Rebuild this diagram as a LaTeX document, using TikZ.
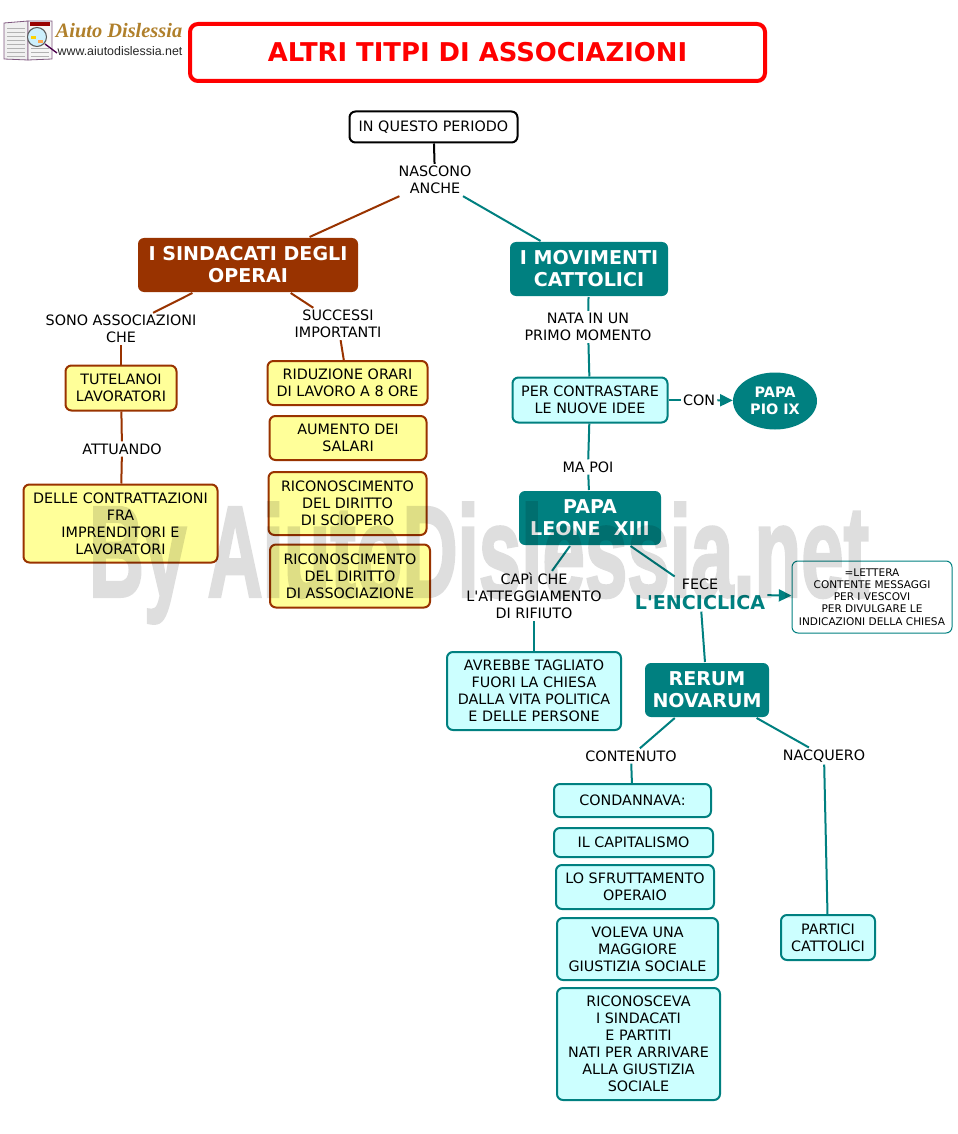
\documentclass[tikz,border=0pt]{standalone}
\usepackage{fontspec}
\setmainfont{DejaVu Sans}
\newfontfamily\plainf{DejaVu Sans}
\newfontfamily\wmfont[FakeBold=2.5]{Liberation Sans}
\newfontfamily\logofont{Liberation Serif}
\newfontfamily\urlfont{Liberation Sans}
\usetikzlibrary{arrows.meta,calc,shapes.geometric}
\definecolor{brn}{HTML}{993300}
\definecolor{teal1}{HTML}{008080}
\definecolor{yel}{HTML}{FFFF99}
\definecolor{cya}{HTML}{CCFFFF}
\definecolor{gold1}{HTML}{B0802B}
\tikzset{
  sz/.style 2 args={minimum width=#1*0.75pt,minimum height=#2*0.75pt},
  base/.style={inner sep=0pt,align=center,rounded corners=4.5pt,line width=1.5pt,
    font=\fontsize{10.75}{12.75}\selectfont,text=black},
  ybox/.style={base,draw=brn,fill=yel},
  cbox/.style={base,draw=teal1,fill=cya},
  bigbrn/.style={base,fill=brn,text=white,font=\bfseries\fontsize{14.3}{16.5}\selectfont},
  bigteal/.style={base,fill=teal1,text=white,font=\bfseries\fontsize{14.3}{16.5}\selectfont},
  lab/.style={inner sep=1.5pt,align=center,font=\fontsize{10.75}{12.75}\selectfont,text=black},
  cb/.style={brn,line width=1.5pt},
  ct/.style={teal1,line width=1.5pt},
  ck/.style={black,line width=1.5pt},
}
\begin{document}
\begin{tikzpicture}[x=0.75pt,y=-0.75pt]
\useasboundingbox (0,0) rectangle (957,1134);
\fill[white] (0,0) rectangle (957,1134);

% logo
\begin{scope}
 \draw[gray!70!violet,line width=.6pt,fill=gray!12] (4,23) -- (28,21) -- (28,60) -- (4,59) -- cycle;
 \draw[gray!70!violet,line width=.6pt,fill=gray!8] (28,21) -- (52,21) -- (52,59) -- (28,60) -- cycle;
 \foreach \yy in {28,32,...,56} {\draw[gray!60,line width=.4pt] (7,\yy) -- (25,\yy);}
 \foreach \yy in {48,52,56} {\draw[gray!60,line width=.4pt] (31,\yy) -- (49,\yy);}
 \fill[red!60!black] (30,22) rectangle (50,26);
 \draw[violet!60!black,line width=1pt] (45,44) -- (57,53);
 \draw[gray!70!black,line width=.8pt,fill=cyan!20] (37,37) circle (9.5);
 \fill[yellow!70!orange] (31,36) rectangle (36,39);
 \fill[orange!70] (38,40) rectangle (43,43);
 \node[inner sep=0pt,text=gold1,font=\logofont\bfseries\itshape\fontsize{15.3}{16}\selectfont] (logotitle) at (119,31) {Aiuto Dislessia};
 \node[inner sep=0pt,text=black!85,font=\urlfont\fontsize{9.3}{10}\selectfont] (logourl) at (120,51) {www.aiutodislessia.net};
\end{scope}

% title
\node[base,draw=red,line width=3pt,rounded corners=6pt,sz={575}{57},text=red,font=\bfseries\fontsize{19.4}{22}\selectfont] (title) at (477.5,52.5) {ALTRI TITPI DI ASSOCIAZIONI};

% top
\node[base,draw=black,sz={168}{31},fill=white] (top) at (433.5,127) {IN QUESTO PERIODO};
\node[lab] (nasc) at (435,180) {NASCONO\\ANCHE};
\node[bigbrn,sz={220}{54}] (sind) at (248,265) {I SINDACATI DEGLI\\OPERAI};
\node[bigteal,sz={158}{54}] (mov) at (589,269) {I MOVIMENTI\\CATTOLICI};

% left branch
\node[lab] (sono) at (121,329) {SONO ASSOCIAZIONI\\CHE};
\node[lab] (succ) at (338,324) {SUCCESSI\\IMPORTANTI};
\node[ybox,sz={111}{45}] (tut) at (121,388) {TUTELANOI\\LAVORATORI};
\node[lab] (att) at (122,449) {ATTUANDO};
\node[ybox,sz={194}{78}] (dell) at (120.5,523.5) {DELLE CONTRATTAZIONI\\FRA\\IMPRENDITORI E\\LAVORATORI};
\node[ybox,sz={160}{44}] (rid) at (347.5,383) {RIDUZIONE ORARI\\DI LAVORO A 8 ORE};
\node[ybox,sz={157}{44}] (aum) at (348,438) {AUMENTO DEI\\SALARI};
\node[ybox,sz={158}{63}] (sci) at (347.5,503.5) {RICONOSCIMENTO\\DEL DIRITTO\\DI SCIOPERO};
\node[ybox,sz={160}{63}] (ass) at (350,576) {RICONOSCIMENTO\\DEL DIRITTO\\DI ASSOCIAZIONE};

% right branch
\node[lab] (nata) at (588,327) {NATA IN UN\\PRIMO MOMENTO};
\node[cbox,sz={155}{45}] (cont) at (590,400) {PER CONTRASTARE\\LE NUOVE IDEE};
\node[lab] (con) at (699,400) {CON};
\node[ellipse,fill=teal1,minimum width=84*0.75pt,minimum height=57*0.75pt,inner sep=0pt,align=center,text=white,font=\bfseries\fontsize{10.8}{12.75}\selectfont] (pio) at (775,401) {PAPA\\PIO IX};
\node[lab] (mapoi) at (588,467) {MA POI};
\node[bigteal,sz={142}{54}] (leone) at (590,518) {PAPA\\LEONE~~XIII};
\node[lab,font=\plainf\fontsize{10.75}{12.75}\selectfont] (capi) at (534,596) {CAPì CHE\\L'ATTEGGIAMENTO\\DI RIFIUTO};
\node[lab,font=\plainf\fontsize{10.75}{12.75}\selectfont] (fece) at (700,594) {FECE\\[2pt]{\bfseries\color{teal1}\fontsize{14.3}{16.5}\selectfont L'ENCICLICA}};
\node[base,draw=teal1,line width=.75pt,fill=white,sz={160}{72},font=\fontsize{7.9}{9.1}\selectfont] (lett) at (872,597) {=LETTERA\\CONTENTE MESSAGGI\\PER I VESCOVI\\PER DIVULGARE LE\\INDICAZIONI DELLA CHIESA};
\node[cbox,sz={174}{78}] (avr) at (534,691) {AVREBBE TAGLIATO\\FUORI LA CHIESA\\DALLA VITA POLITICA\\E DELLE PERSONE};
\node[bigteal,sz={124}{54}] (rer) at (707,690) {RERUM\\NOVARUM};
\node[lab] (conten) at (631,756) {CONTENUTO};
\node[lab] (nacq) at (824,756) {NACQUERO};
\node[cbox,sz={157}{33}] (cond) at (632.5,800.5) {CONDANNAVA:};
\node[cbox,sz={159}{29}] (capit) at (633.5,842.5) {IL CAPITALISMO};
\node[cbox,sz={158}{44}] (sfr) at (635,887) {LO SFRUTTAMENTO\\OPERAIO};
\node[cbox,sz={161}{62}] (vol) at (637.5,949) {VOLEVA UNA\\MAGGIORE\\GIUSTIZIA SOCIALE};
\node[cbox,sz={163}{112}] (ric) at (638.5,1044) {RICONOSCEVA\\I SINDACATI\\E PARTITI\\NATI PER ARRIVARE\\ALLA GIUSTIZIA\\SOCIALE};
\node[cbox,sz={94}{45}] (part) at (828,937.5) {PARTICI\\CATTOLICI};

% connectors
\draw[ck] (top) -- (nasc);
\draw[cb] (nasc) -- (sind);
\draw[ct] (nasc) -- (mov);
\draw[cb] (sind) -- (sono);
\draw[cb] (sind) -- (succ);
\draw[cb] (sono) -- (tut);
\draw[cb] (tut) -- (att);
\draw[cb] (att) -- (dell);
\draw[cb] (succ) -- (rid);
\draw[ct] (mov) -- (nata);
\draw[ct] (nata) -- (cont);
\draw[ct] (cont) -- (con);
\draw[ct,-{Triangle[length=9.5pt,width=9pt]}] (con) -- (pio);
\draw[ct] (cont) -- (mapoi);
\draw[ct] (mapoi) -- (leone);
\draw[ct] (leone) -- (capi);
\draw[ct] (leone) -- (fece);
\draw[ct] (capi) -- (avr);
\draw[ct,-{Triangle[length=9.5pt,width=9pt]}] (fece) -- (lett);
\draw[ct] (fece) -- (rer);
\draw[ct] (rer) -- (conten);
\draw[ct] (rer) -- (nacq);
\draw[ct] (conten) -- (cond);
\draw[ct] (nacq) -- (part);

% watermark
\begin{scope}[transparency group,opacity=.13]
\node[inner sep=0pt,text=black,xscale=.59,transform shape,font=\wmfont\bfseries\fontsize{97}{100}\selectfont] (wm) at (479,563) {By AiutoDislessia.net};
\end{scope}
\end{tikzpicture}
\end{document}
